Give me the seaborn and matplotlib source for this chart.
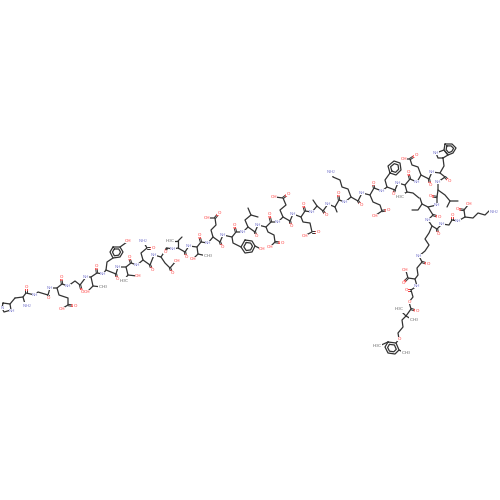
import numpy as np
import pandas as pd
import matplotlib
matplotlib.use("Agg")
import matplotlib.pyplot as plt
import seaborn as sns

BOND = "#333333"
RED = "#ff3b3b"
BLUE = "#8080d0"

backbone = [(15,298),(23,297),(26,293),(35,295),(38,292),(48,295),(50,288),(57,288),(62,284),(68,286),(75,281),(80,285),
 (86,277),(91,277),(97,273),(103,274),(106,270),(116,274),(118,267),(126,267),(131,263),(137,265),(143,260),(150,265),
 (154,255),(161,257),(167,248),(173,249),(178,248),(185,252),(189,246),(197,247),(201,242),(208,243),(213,237),(220,242),
 (223,235),(232,237),(236,232),(243,232),(248,227),(255,232),(258,225),(266,227),(271,222),(278,222),(283,217),(290,221),
 (293,214),(301,217),(305,211),(312,212),(317,206),(323,211),(328,204),(335,207),(339,200),(345,202),(351,197),(358,201),
 (362,193),(370,195),(374,188),(382,191),(387,187),(395,190),(398,183),(405,185),(410,179),(417,182),(421,175),(429,179),
 (432,172),(440,173),(445,177),(438,182),(438,190),(437,197),(437,205),(428,207),(433,215),(428,220),(432,226),(437,229),
 (442,224),(449,225),(452,220),(458,221),(465,217)]
lys_tail = [(465,217),(473,218),(478,213),(485,215),(490,210),(493,212)]
lys_link = [(432,226),(429,233),(425,239),(429,245),(425,251),(419,256),(422,262),(417,268),(418,275),(415,279),(417,286),
 (411,290),(413,297),(409,302),(411,309),(406,316),(402,320),(403,327),(398,333),(399,339),(396,343)]
tyr1_ring = [(113,247),(120,247),(123,252),(120,257),(113,258),(110,252)]
tyr2_ring = [(245,240),(252,241),(255,246),(252,252),(245,253),(241,247)]
phe_ring = [(390,173),(388,166),(394,161),(400,163),(401,170),(396,175)]
trp_hex = [(445,144),(452,144),(456,148),(453,153),(448,155),(444,150)]
trp_pent = [(443,158),(438,158),(436,153),(444,150),(448,155)]
his_ring = [(3,303),(2,308),(4,312),(11,310),(10,304)]
xyl_ring = [(388,342),(385,347),(388,353),(395,354),(399,350),(396,343)]
aromatic = [tyr1_ring, tyr2_ring, phe_ring, trp_hex, xyl_ring]
sides = [
 [(23,297),(25,304)], [(15,298),(10,304)],
 [(57,288),(59,295),(68,298),(68,305),(63,308)],
 [(91,277),(93,286),(102,287)], [(93,286),(88,291)],
 [(106,270),(107,262),(113,258)], [(120,247),(127,242)],
 [(126,267),(128,275),(124,280)], [(128,275),(137,276)],
 [(143,260),(141,253),(147,248),(143,241)],
 [(161,257),(165,263),(170,268),(176,261)],
 [(178,248),(178,241),(170,241)], [(178,241),(182,237)],
 [(197,247),(198,254),(207,256)], [(198,254),(194,258)],
 [(213,237),(211,230),(216,225),(215,218),(208,218)],
 [(232,237),(233,243),(241,247)], [(255,246),(261,249)],
 [(248,227),(245,220),(251,215),(248,208)], [(251,215),(258,217)],
 [(266,227),(268,232),(274,235),(275,242),(271,246)],
 [(283,217),(280,210),(286,205),(283,198),(275,197)],
 [(301,217),(303,222),(310,223),(312,232),(306,235)],
 [(317,206),(313,200)], [(335,207),(337,212)],
 [(351,197),(348,189),(342,187),(340,180),(333,177),(332,173)],
 [(370,195),(373,202),(380,205),(382,211),(376,215)],
 [(387,187),(385,180),(390,173)],
 [(405,185),(407,192),(400,196)], [(407,192),(413,193),(419,198)],
 [(421,175),(418,167),(412,165),(410,159),(405,159)],
 [(440,173),(444,166),(443,158)],
 [(438,190),(445,195),(450,201),(458,201)], [(450,201),(447,207)],
 [(428,207),(422,204),(420,198)], [(422,204),(418,210),(412,210)],
 [(465,217),(464,210),(468,205)],
 [(415,279),(408,278),(406,271)],
 [(406,316),(400,310)], [(406,316),(413,320)],
 [(388,342),(379,346)], [(399,350),(405,353)],
]
carbonyls = [(26,293,26,287),(48,295,48,298),(62,284,61,277),(80,285,82,292),(97,273,96,266),(116,274,117,279),(131,263,129,257),
 (150,265,152,270),(167,248,165,252),(185,252,186,257),(201,242,199,235),(220,242,222,247),(236,232,234,225),(255,232,256,236),
 (271,222,269,214),(290,221,291,226),(305,211,303,204),(323,211,326,215),(339,200,338,193),(358,201,361,205),(374,188,373,183),
 (395,190,393,194),(410,179,408,172),(429,179,430,185),(445,177,449,181),(437,197,430,196),(433,215,439,217),(437,229,438,234),
 (452,220,452,215),(464,210,457,209),(422,262,428,264),(408,278,403,283),(411,290,406,290),(411,309,417,311),(147,248,153,248),
 (68,305,75,306),(170,268,172,273),(215,218,219,213),(275,242,282,243),(283,198,288,194),(312,232,318,232),(382,211,388,210),(410,159,416,155)]
n_labels = [("NH",35,295),("NH",50,288),("NH",68,286),("NH",86,277),("NH",103,274),("NH",118,267),("NH",137,265),("NH",154,255),
 ("NH",173,249),("NH",189,246),("NH",208,243),("NH",223,235),("NH",243,232),("NH",258,225),("NH",278,222),("NH",293,214),
 ("NH",312,212),("NH",328,204),("NH",345,202),("NH",362,193),("NH",382,191),("NH",398,183),("NH",417,182),("NH",432,172),
 ("NH",438,182),("NH",437,205),("NH",428,220),("NH",442,224),("NH",458,221),("NH",419,256),("NH",417,286),("NH",436,153),
 ("NH",12,311),("N",2,308),("NH2",27,306),("NH2",143,241),("NH2",331,172),("NH2",494,212)]
o_labels = [("OH",62,309),("OH",87,292),("OH",128,241),("OH",138,276),("OH",177,261),("OH",193,259),("OH",207,218),("OH",262,249),
 ("OH",270,247),("OH",274,197),("OH",305,236),("OH",375,216),("OH",404,159),("OH",469,204),("OH",405,270),
 ("O",409,302),("O",399,339)]
c_labels = [("H3C",124,281),("H3C",170,241),("H3C",400,197),("H3C",399,309),("CH3",103,287),("CH3",208,256),("CH3",414,320),("CH3",406,353),("H3C",377,346)]

sns.set_theme(style="white")
fig, ax = plt.subplots(figsize=(5, 5), dpi=100)
fig.subplots_adjust(0, 0, 1, 1)

def closed(r):
    return list(r) + [r[0]]

def inner(r):
    a = np.array(r, float)
    c = a.mean(axis=0)
    return [tuple(p) for p in c + (a - c) * 0.62]

rings = [closed(r) for r in aromatic + [trp_pent, his_ring]]
inner_rings = [closed(inner(r)) for r in aromatic]
chains = [backbone, lys_tail, lys_link] + rings + inner_rings + sides
df = pd.DataFrame([(i, j, x, y) for i, c in enumerate(chains) for j, (x, y) in enumerate(c)],
                  columns=["unit", "order", "x", "y"])
sns.lineplot(data=df, x="x", y="y", units="unit", estimator=None, sort=False, color=BOND,
             lw=0.9, ax=ax, legend=False)

co = np.array(carbonyls, float)
d = co[:, 2:] - co[:, :2]
n = np.c_[-d[:, 1], d[:, 0]] / np.linalg.norm(d, axis=1, keepdims=True) * 0.7
for s in (-1, 1):
    p0 = co[:, :2] + s * n
    p1 = co[:, 2:] + s * n
    mid = (p0 + p1) / 2
    ax.plot(np.c_[p0[:, 0], mid[:, 0]].T, np.c_[p0[:, 1], mid[:, 1]].T, color=BOND, lw=0.7)
    ax.plot(np.c_[mid[:, 0], p1[:, 0]].T, np.c_[mid[:, 1], p1[:, 1]].T, color=RED, lw=0.7)

def label(items, color):
    for t, x, y in items:
        txt = {"NH2": "NH$_2$", "H3C": "H$_3$C", "CH3": "CH$_3$"}.get(t, t)
        ax.text(x, y, txt, color=color, fontsize=3.2, ha="center", va="center", zorder=5,
                bbox=dict(fc="white", ec="none", pad=0.1))
label(n_labels, BLUE)
label(o_labels, RED)
label(c_labels, "#666666")
label([("O", c[2], c[3]) for c in carbonyls], RED)

ax.set_xlim(0, 500)
ax.set_ylim(500, 0)
ax.axis("off")
fig.savefig("out.png", dpi=100, facecolor="white")
